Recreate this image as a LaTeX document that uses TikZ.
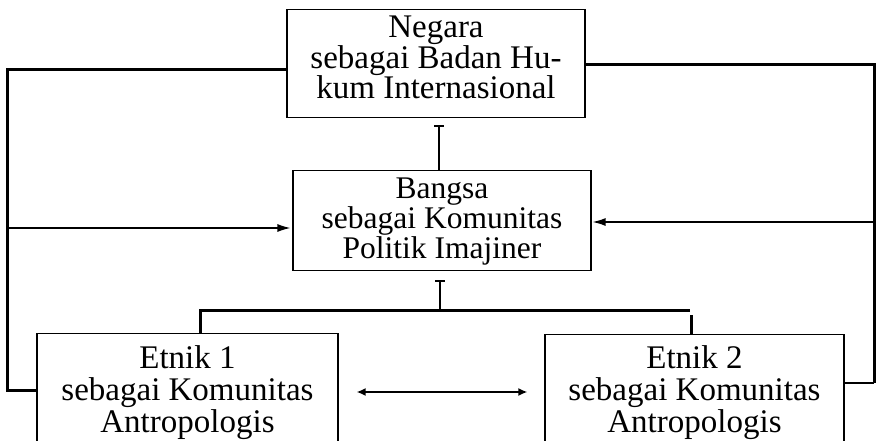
\documentclass[tikz,border=0pt]{standalone}
\usepackage{fontspec}
\setmainfont{Liberation Serif}
\usetikzlibrary{arrows.meta}
\begin{document}
\begin{tikzpicture}[x=1pt,y=-1pt,
  box/.style={draw, line width=1.1pt, inner sep=0pt, align=center, anchor=north},
  topfont/.style={font=\fontsize{33}{30.5}\selectfont},
  midfont/.style={font=\fontsize{31.5}{30}\selectfont},
  bigfont/.style={font=\fontsize{33}{32}\selectfont},
  loopline/.style={line width=3pt},
  thinline/.style={line width=1.5pt},
  barline/.style={line width=2.6pt, -{Bar[width=10pt,line width=2.2pt]}},
  thinarrow/.style={line width=1.4pt, -{Latex[length=13pt,width=8pt]}},
  dblarrow/.style={line width=1.8pt, {Latex[length=9pt,width=8pt]}-{Latex[length=9pt,width=8pt]}}
]
\useasboundingbox (0,0) rectangle (876,441);
\clip (0,0) rectangle (876,441);
\fill[white] (0,0) rectangle (876,441);

\node[box, topfont, minimum width=298pt, text height=89pt, text depth=19pt] (negara) at (436,9)
  {Negara\\sebagai Badan Hu-\\kum Internasional};
\node[box, midfont, minimum width=298pt, text height=88pt, text depth=12pt] (bangsa) at (442,170)
  {Bangsa\\sebagai Komunitas\\Politik Imajiner};
\node[box, bigfont, minimum width=301pt, text height=99pt, text depth=60pt] (etnik1) at (187.5,333)
  {Etnik 1\\sebagai Komunitas\\Antropologis};
\node[box, bigfont, minimum width=299pt, text height=98pt, text depth=60pt] (etnik2) at (694.5,334)
  {Etnik 2\\sebagai Komunitas\\Antropologis};

% left loop
\coordinate (lt) at (7,70);
\coordinate (lb) at (7,390);
\coordinate (la) at (7,228);
\draw[loopline] (negara.west |- lt) -- (lt) -- (lb) -- (etnik1.west |- lb);
\draw[thinarrow, shorten >=2pt] (la) -- (bangsa.west |- la);

% right loop
\coordinate (rt) at (874,65);
\coordinate (rb) at (874,383);
\coordinate (ra) at (874,222);
\draw[loopline] (negara.east |- rt) -- (rt) -- (rb);
\draw[thinline] (rb) -- (etnik2.east |- rb);
\draw[thinarrow, shorten >=1pt] (ra) -- (bangsa.east |- ra);

% centre connectors
\coordinate (c1) at (439,140);
\draw[barline, shorten >=7pt] (bangsa.north -| c1) -- (negara.south -| c1);
\coordinate (h0) at (440,310);
\coordinate (h1) at (200,310);
\coordinate (h2) at (690,310);
\coordinate (h3) at (691,315);
\draw[barline, shorten >=9pt] (h0) -- (bangsa.south -| h0);
\draw[loopline] (etnik1.north -| h1) -- (h1) -- (h2);
\draw[loopline] (h3) -- (etnik2.north -| h3);

% double arrow between ethnic groups
\coordinate (da) at (440,392);
\draw[dblarrow, shorten <=18pt, shorten >=17pt] (etnik1.east |- da) -- (etnik2.west |- da);
\end{tikzpicture}
\end{document}
